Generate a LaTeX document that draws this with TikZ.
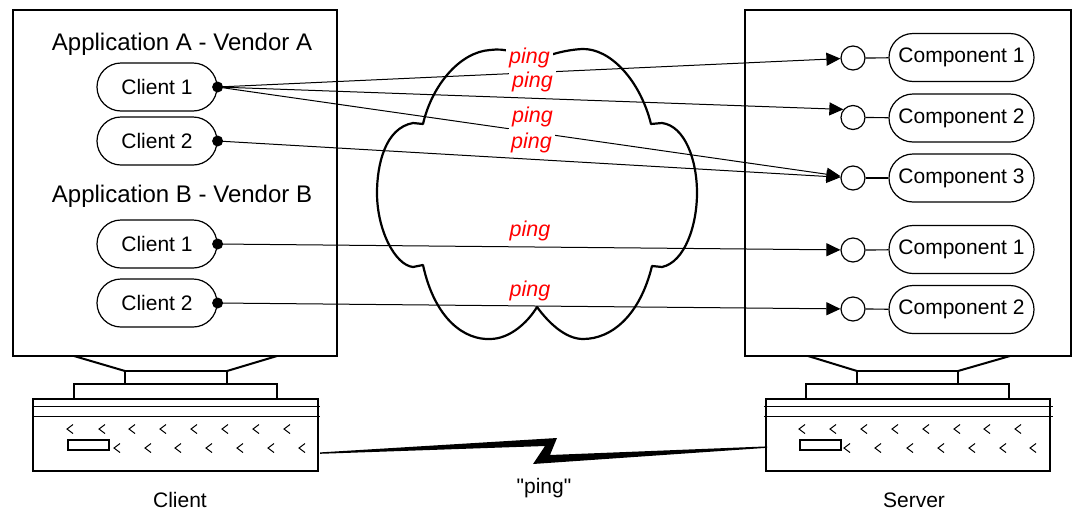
\documentclass[tikz,border=0pt]{standalone}
\usepackage{fontspec}
\setmainfont{Liberation Sans}
\newfontfamily\plainsans[Ligatures=TeXOff]{Liberation Sans}
\usetikzlibrary{shapes.misc,arrows.meta,calc}
\definecolor{pingred}{RGB}{255,0,0}
\tikzset{
  pill/.style={draw, rounded rectangle, line width=1.2pt, minimum height=48pt, inner sep=0pt, font=\fontsize{21}{24}\selectfont},
  clientpill/.style={pill, minimum width=120pt},
  comppill/.style={pill, minimum width=145pt},
  port/.style={draw, circle, minimum size=24pt, inner sep=0pt, line width=1.2pt},
  conn/.style={line width=1pt, -{Triangle[length=14pt,width=13pt]}},
  stub/.style={line width=1.2pt},
  pinglabel/.style={fill=white, text=pingred, inner xsep=3pt, inner ysep=3pt, anchor=base, font=\fontsize{21.5}{24}\selectfont\itshape},
  heavy/.style={line width=2.5pt},
  medium/.style={line width=2pt},
  thinline/.style={line width=1pt},
  chev/.style={line width=1pt},
  heading/.style={font=\fontsize{24}{28}\selectfont, anchor=base, inner sep=0pt},
  caption/.style={font=\fontsize{21}{24}\selectfont, anchor=base, inner sep=0pt},
}
\begin{document}
\begin{tikzpicture}[x=1pt,y=-1pt]
\useasboundingbox (0,0) rectangle (1077,512);

% ---------- left computer ----------
\draw[heavy] (13,10) rectangle (337,356);
\draw[medium] (74,356) -- (125,371) (277,356) -- (227,371);
\draw[medium] (125,371) rectangle (227,384);
\draw[medium] (74,384) rectangle (277,399);
\draw[heavy] (33,399) rectangle (318,471);
\draw[thinline] (32,406) -- (320,406) (32,416) -- (320,416);
\foreach \x in {70,102,132,163,194,225,256,287}
  \draw[chev] (\x+3,424.5) -- (\x-3,429) -- (\x+3,433.5);
\foreach \x in {117,148,178,209,240,271,302}
  \draw[chev] (\x+3,443.5) -- (\x-3,448) -- (\x+3,452.5);
\draw[line width=1.3pt] (68,440) rectangle (109,450);

% ---------- right computer ----------
\draw[heavy] (745,10) rectangle (1071,356);
\draw[medium] (808,356) -- (857,371) (1010,356) -- (958,371);
\draw[medium] (857,371) rectangle (958,384);
\draw[medium] (806,384) rectangle (1009,399);
\draw[heavy] (766,399) rectangle (1050,471);
\draw[thinline] (764,406) -- (1053,406) (764,416) -- (1053,416);
\foreach \x in {802,833,864,895,926,957,987,1018}
  \draw[chev] (\x+3,424.5) -- (\x-3,429) -- (\x+3,433.5);
\foreach \x in {847,878,910,941,972,1003,1033}
  \draw[chev] (\x+3,443.5) -- (\x-3,448) -- (\x+3,452.5);
\draw[line width=1.3pt] (800,440) rectangle (841,450);

% ---------- lightning link ----------
\coordinate (boltL) at (320,453);
\coordinate (boltR) at (767,447);
\fill ($(boltL)+(0,-0.6)$) -- (557,438) -- (550,455) -- ($(boltR)+(0,-0.6)$) -- ($(boltR)+(0,0.8)$) -- (533,464) -- (545,446) -- ($(boltL)+(0,0.8)$) -- cycle;

% ---------- cloud ----------
\draw[line width=2.2pt, line join=round] (530,64) .. controls (520,52) and (505,48) .. (490,50)
  .. controls (460,52) and (432,85) .. (423,124) -- (413,123)
  .. controls (385,128) and (377,165) .. (377,193)
  .. controls (377,230) and (395,265) .. (413,267) -- (423,265)
  .. controls (435,320) and (465,340) .. (490,339)
  .. controls (510,339) and (528,322) .. (537,307)
  .. controls (548,322) and (565,339) .. (583,339)
  .. controls (612,339) and (640,315) .. (652,266) -- (662,267)
  .. controls (685,262) and (697,225) .. (697,193)
  .. controls (697,160) and (685,126) .. (662,123) -- (651,124)
  .. controls (640,80) and (610,48) .. (582,49)
  .. controls (565,50) and (545,55) .. (530,64) -- cycle;

% ---------- headings ----------
\node[heading] (headA) at (182,50) {Application A - Vendor A};
\node[heading] (headB) at (182,202) {Application B - Vendor B};

% ---------- clients ----------
\node[clientpill] (a1) at (157,87) {Client 1};
\node[clientpill] (a2) at (157,141) {Client 2};
\node[clientpill] (b1) at (157,244) {Client 1};
\node[clientpill] (b2) at (157,303) {Client 2};

% ---------- components ----------
\node[comppill] (ca1) at (961.5,57.5) {Component 1};
\node[comppill] (ca2) at (961.5,118) {Component 2};
\node[comppill] (ca3) at (961.5,178) {Component 3};
\node[comppill] (cb1) at (961.5,249.5) {Component 1};
\node[comppill] (cb2) at (961.5,309.5) {Component 2};

\node[port] (pa1) at (853,58) {};
\node[port] (pa2) at (853,117.5) {};
\node[port] (pa3) at (853,178) {};
\node[port] (pb1) at (853,250) {};
\node[port] (pb2) at (853,309) {};

\draw[stub] (pa1) -- (ca1);
\draw[stub] (pa2) -- (ca2);
\draw[stub] (pa3) -- (ca3);
\draw[stub] (pb1) -- (cb1);
\draw[stub] (pb2) -- (cb2);

% ---------- connectors ----------
\draw[conn] (a1.east) -- (pa1);
\draw[conn] (a1.east) -- (pa2.140);
\draw[conn] (a1.east) -- (pa3);
\draw[conn] (a2.east) -- (pa3);
\draw[conn] (b1.east) -- (pb1);
\draw[conn] (b2.east) -- (pb2);

\foreach \n in {a1,a2,b1,b2}
  \fill (\n.east) circle (5.5pt);

% ---------- ping labels ----------
\node[pinglabel] (p1) at (529.5,63) {ping};
\node[pinglabel] (p2) at (532.5,87) {ping};
\node[pinglabel] (p3) at (532.5,122) {ping};
\node[pinglabel] (p4) at (531.5,148) {ping};
\node[pinglabel] (p5) at (530,236) {ping};
\node[pinglabel] (p6) at (530,296) {ping};

% ---------- captions ----------
\node[caption] (capC) at (180,507) {Client};
\node[caption] (capS) at (914,507) {Server};
\node[caption] (capP) at (544,493) {\plainsans "ping"};
\end{tikzpicture}
\end{document}
